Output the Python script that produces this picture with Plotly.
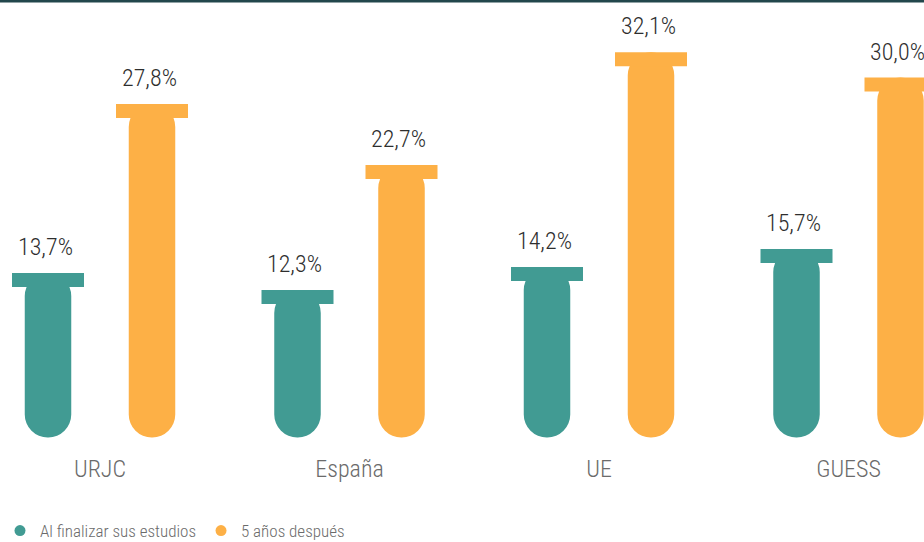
import plotly.graph_objects as go

# ---- data ----
categories = ["URJC", "España", "UE", "GUESS"]
series_names = ["Al finalizar sus estudios", "5 años después"]
al_finalizar = [13.7, 12.3, 14.2, 15.7]
cinco_anos = [27.8, 22.7, 32.1, 30.0]
label_al_finalizar = ["13,7%", "12,3%", "14,2%", "15,7%"]
label_cinco_anos = ["27,8%", "22,7%", "32,1%", "30,0%"]

# ---- style ----
TEAL = "#419b93"
ORANGE = "#fdb046"
FONT = "Liberation Sans Narrow, Arial Narrow, Roboto Condensed, Roboto, Liberation Sans, Arial, sans-serif"

W, H = 924, 542
MB = 102
plot_h = H - MB
ppu = 12.0                       # pixels per percent
zero_px = 437.5                  # pixel row of zero
y_top = zero_px / ppu
y_bot = y_top - plot_h / ppu

cat_px = 249.5
first_center_px = 100
x_lo = -first_center_px / cat_px
x_hi = x_lo + W / cat_px

offset = 52 / cat_px
tube_w = 46.5 / cat_px
cap_w = 72 / cat_px
cap_h = 14 / ppu

fig = go.Figure()
series = [(al_finalizar, label_al_finalizar, TEAL, -offset),
          (cinco_anos, label_cinco_anos, ORANGE, offset)]

for vals, labels, color, off in series:
    xs = [i + off for i in range(len(categories))]
    # tube (from value down to zero, rounded bottom)
    fig.add_trace(go.Bar(x=xs, y=[-v for v in vals], base=vals, width=tube_w,
                         marker=dict(color=color, cornerradius="50%", line=dict(width=0)),
                         showlegend=False, hoverinfo="skip"))
    # cap (wider lip at the top)
    fig.add_trace(go.Bar(x=xs, y=[-cap_h] * len(vals), base=vals, width=cap_w,
                         marker=dict(color=color, line=dict(width=0)),
                         showlegend=False, hoverinfo="skip"))
    for x, v, t in zip(xs, vals, labels):
        fig.add_annotation(x=x, y=v, text=t, showarrow=False, yanchor="bottom",
                           yshift=10, xshift=-3,
                           font=dict(family=FONT, size=24, color="#2e2e2e", weight=300))

for name, color in zip(series_names, [TEAL, ORANGE]):
    fig.add_trace(go.Scatter(x=[None], y=[None], mode="markers", name=name,
                             marker=dict(color=color, size=11, symbol="circle")))

fig.add_shape(type="rect", xref="paper", yref="paper", x0=0, x1=1,
              ysizemode="pixel", yanchor=1, y0=0, y1=-2.5,
              fillcolor="#22474c", line=dict(width=0), layer="above")

fig.update_layout(
    width=W, height=H,
    margin=dict(l=0, r=0, t=0, b=MB, pad=0),
    barmode="overlay",
    plot_bgcolor="white", paper_bgcolor="white",
    xaxis=dict(range=[x_lo, x_hi], tickvals=list(range(len(categories))),
               ticktext=categories, showgrid=False, zeroline=False, showline=False,
               ticks="", ticklabelstandoff=12,
               tickfont=dict(family=FONT, size=24, color="#6b6b6b", weight=300),
               fixedrange=True),
    yaxis=dict(range=[y_bot, y_top], visible=False, fixedrange=True),
    showlegend=True,
    legend=dict(orientation="h", x=-0.009, xanchor="left", yref="container",
                y=11 / H, yanchor="middle", itemwidth=30,
                font=dict(family=FONT, size=17, color="#6b6b6b", weight=300),
                bgcolor="rgba(0,0,0,0)"),
)

fig.write_html("out.html", config={"displayModeBar": False})

# remove default page margin so the figure sits at the window's top-left
with open("out.html", "r", encoding="utf-8") as f:
    html = f.read()
html = html.replace("<head>", "<head><style>html,body{margin:0;padding:0;overflow:hidden;}</style>", 1)
with open("out.html", "w", encoding="utf-8") as f:
    f.write(html)
